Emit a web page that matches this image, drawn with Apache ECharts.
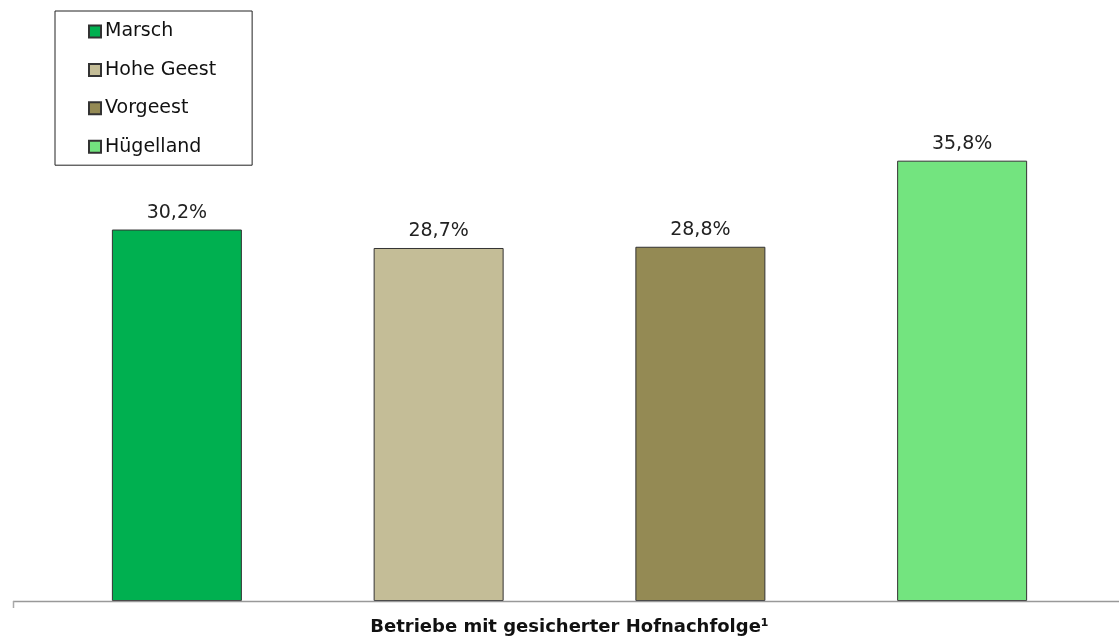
<!DOCTYPE html>
<html>
<head>
<meta charset="utf-8">
<script src="https://cdn.jsdelivr.net/npm/echarts@6/dist/echarts.min.js"></script>
<style>
html,body{margin:0;padding:0;background:#fff;}
#chart{width:1119px;height:641px;}
</style>
</head>
<body>
<div id="chart"></div>
<script>
var categories = ['Marsch', 'Hohe Geest', 'Vorgeest', 'Hügelland'];
var values = [30.2, 28.7, 28.8, 35.8];
var colors = ['#00B050', '#C4BD97', '#948A54', '#73E47F'];
var axisTitle = 'Betriebe mit gesicherter Hofnachfolge¹';
var FONT = 'DejaVu Sans, Liberation Sans, Arial, sans-serif';

var chart = echarts.init(document.getElementById('chart'));
var series = categories.map(function (name, i) {
  var d = categories.map(function (c, j) { return j === i ? values[i] : '-'; });
  return {
    name: name,
    type: 'bar',
    stack: 'all',
    barWidth: 130,
    data: d,
    itemStyle: { color: colors[i], borderColor: '#333', borderWidth: 1 },
    label: {
      show: true,
      position: 'top',
      distance: 7,
      fontFamily: FONT,
      fontSize: 19,
      color: '#222',
      formatter: function (p) { return p.value.toFixed(1).replace('.', ',') + '%'; }
    }
  };
});

chart.setOption({
  animation: false,
  backgroundColor: '#fff',
  textStyle: { fontFamily: FONT },
  grid: { left: 46, right: 26, top: 109, bottom: 40, outerBoundsMode: 'none', containLabel: false },
  legend: {
    orient: 'vertical',
    left: 55,
    top: 11,
    padding: [11, 36, 9, 33],
    itemWidth: 12,
    itemHeight: 12,
    itemGap: 19.4,
    borderColor: '#222',
    borderWidth: 1,
    backgroundColor: '#fff',
    icon: 'rect',
    textStyle: { fontFamily: FONT, fontSize: 19, color: '#111', padding: [0, 0, 0, -1] },
    data: categories
  },
  xAxis: {
    type: 'category',
    data: categories,
    axisLine: { show: false },
    axisTick: { show: false },
    axisLabel: { show: false },
    name: axisTitle,
    nameLocation: 'middle',
    nameGap: 17,
    nameTextStyle: { fontFamily: FONT, fontSize: 18, fontWeight: 'bold', color: '#111', verticalAlign: 'top' }
  },
  yAxis: {
    type: 'value',
    min: 0,
    max: 40,
    show: false,
    splitLine: { show: false }
  },
  graphic: [
    { type: 'line', shape: { x1: 13, y1: 601.5, x2: 1119, y2: 601.5 }, style: { stroke: '#999', lineWidth: 1.5 }, z: 10 },
    { type: 'line', shape: { x1: 13.5, y1: 601, x2: 13.5, y2: 608 }, style: { stroke: '#aaa', lineWidth: 1.5 }, z: 10 }
  ],
  series: series
});
</script>
</body>
</html>
